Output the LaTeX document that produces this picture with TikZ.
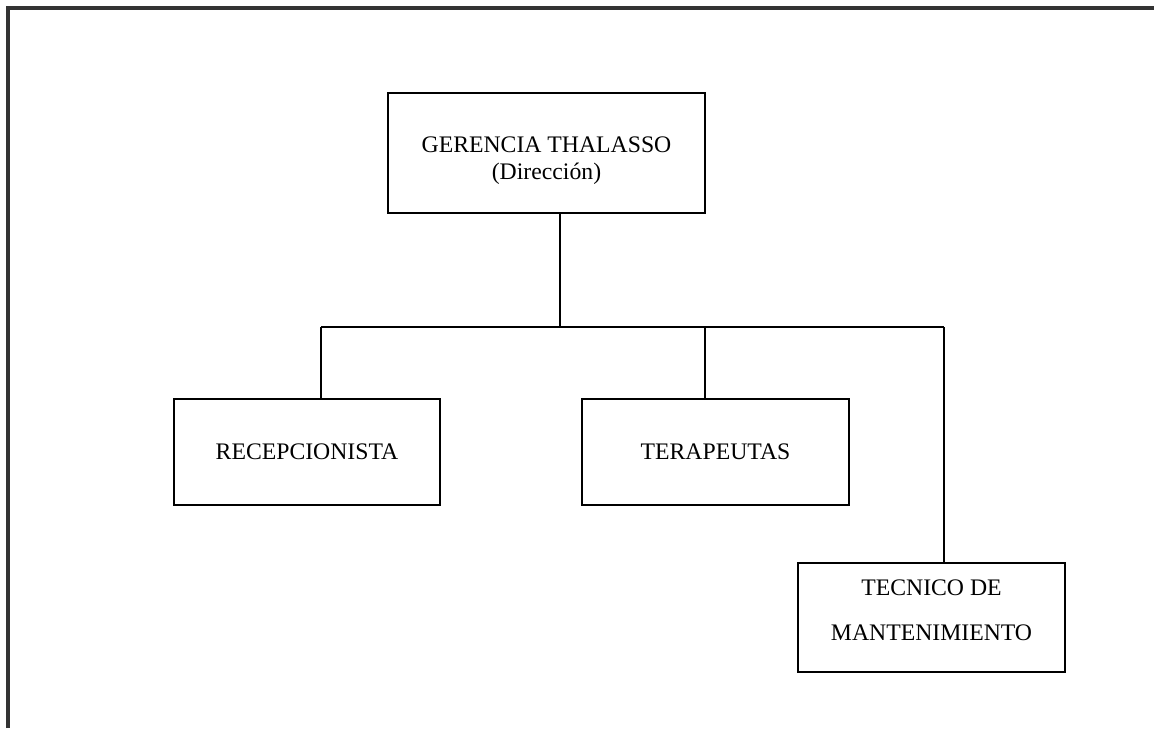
\documentclass[tikz,border=0pt]{standalone}
\usepackage{fontspec}
\setmainfont{Liberation Serif}
\usetikzlibrary{positioning}

\begin{document}
\begin{tikzpicture}[x=0.02cm,y=-0.02cm,
    every node/.style={font={\fontsize{13.5}{15.3}\selectfont}},
    orgbox/.style={draw,line width=0.85pt,align=center,inner sep=0pt},
    link/.style={line width=0.85pt}]
  \useasboundingbox (0,0) rectangle (1154,728);
  % frame (left and top only)
  \draw[black!80,line width=2pt] (8,728) -- (8,8) -- (1154,8);
  % boxes
  \node[orgbox,minimum width=6.34cm,minimum height=2.4cm] (gerencia) at (546.5,153)
    {\rule{0pt}{18pt}GERENCIA THALASSO\\(Dirección)};
  \node[orgbox,minimum width=5.32cm,minimum height=2.12cm] (recep) at (307,452) {RECEPCIONISTA};
  \node[orgbox,minimum width=5.34cm,minimum height=2.12cm] (terap) at (715.5,452) {TERAPEUTAS};
  \node[orgbox,minimum width=5.34cm,minimum height=2.18cm,
        font={\fontsize{13.5}{25.5}\selectfont}] (tecnico) at (931.5,617.5)
    {TECNICO DE\\MANTENIMIENTO\rule[-8pt]{0pt}{8pt}};
  % connectors
  \coordinate (top) at (560,327);
  \coordinate (jl) at (321,327);
  \coordinate (jm) at (705,327);
  \coordinate (jr) at (944,327);
  \draw[link] (gerencia.south -| top) -- (top);
  \draw[link] (jl) -- (jr);
  \draw[link] (jl) -- (jl |- recep.north);
  \draw[link] (jm) -- (jm |- terap.north);
  \draw[link] (jr) -- (jr |- tecnico.north);
\end{tikzpicture}
\end{document}
